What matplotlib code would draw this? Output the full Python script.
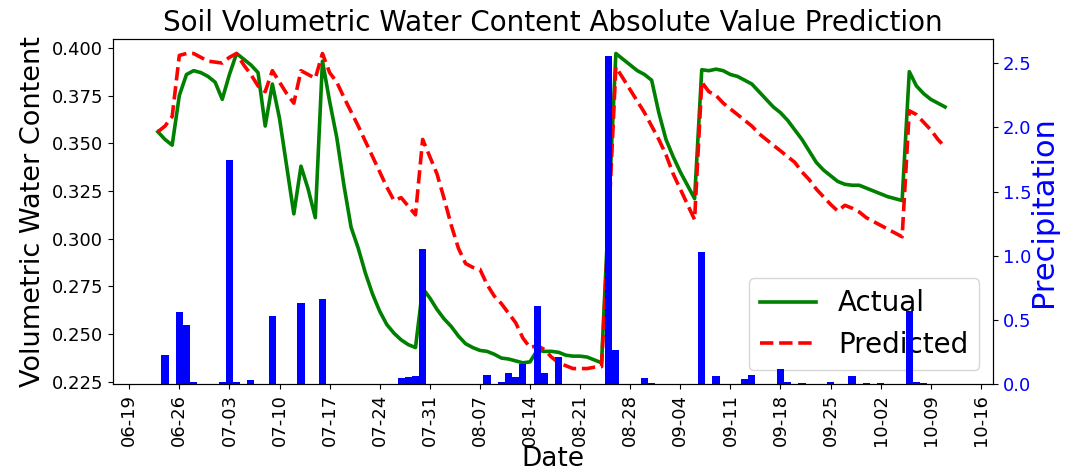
import matplotlib
matplotlib.use("Agg")
import matplotlib.pyplot as plt
import matplotlib.dates as mdates
import pandas as pd

plt.rcParams.update({'font.size': 13})

start = pd.Timestamp('2019-06-23')

# soil moisture, one value per day from 06-23 to 10-11
actual = [0.356, 0.352, 0.349, 0.375, 0.386, 0.388, 0.387, 0.385, 0.382, 0.373,
          0.386, 0.397, 0.394, 0.391, 0.387, 0.359, 0.381, 0.363, 0.338, 0.313,
          0.338, 0.326, 0.311, 0.393, 0.372, 0.353, 0.328, 0.306, 0.295, 0.282,
          0.271, 0.262, 0.255, 0.2505, 0.247, 0.2445, 0.243, 0.274, 0.269, 0.263,
          0.258, 0.254, 0.249, 0.245, 0.243, 0.2415, 0.241, 0.2395, 0.2375, 0.237,
          0.236, 0.235, 0.2355, 0.2415, 0.241, 0.241, 0.2405, 0.239, 0.2385, 0.2385,
          0.238, 0.2365, 0.235, 0.316, 0.397, 0.394, 0.391, 0.388, 0.386, 0.383,
          0.366, 0.352, 0.343, 0.335, 0.328, 0.321, 0.3885, 0.388, 0.3888, 0.388,
          0.386, 0.385, 0.383, 0.381, 0.377, 0.373, 0.369, 0.366, 0.362, 0.357,
          0.352, 0.346, 0.340, 0.336, 0.333, 0.330, 0.3285, 0.328, 0.328, 0.3265,
          0.325, 0.3235, 0.322, 0.321, 0.320, 0.3875, 0.380, 0.376, 0.373, 0.371,
          0.369]

predicted = [0.356, 0.359, 0.364, 0.396, 0.397, 0.397, 0.395, 0.393, 0.3925, 0.392,
             0.395, 0.397, 0.391, 0.386, 0.380, 0.377, 0.388, 0.382, 0.376, 0.371,
             0.388, 0.386, 0.384, 0.397, 0.387, 0.382, 0.374, 0.3665, 0.359, 0.351,
             0.343, 0.335, 0.327, 0.320, 0.3215, 0.317, 0.3125, 0.352, 0.343, 0.334,
             0.321, 0.307, 0.295, 0.287, 0.285, 0.284, 0.276, 0.270, 0.266, 0.261,
             0.256, 0.248, 0.243, 0.244, 0.242, 0.238, 0.235, 0.2335, 0.232, 0.232,
             0.232, 0.2327, 0.233, 0.310, 0.390, 0.384, 0.378, 0.372, 0.366, 0.359,
             0.352, 0.344, 0.334, 0.326, 0.318, 0.310, 0.382, 0.377, 0.375, 0.371,
             0.368, 0.365, 0.362, 0.359, 0.355, 0.352, 0.349, 0.346, 0.343, 0.340,
             0.335, 0.331, 0.326, 0.322, 0.318, 0.3145, 0.3175, 0.316, 0.314, 0.311,
             0.309, 0.307, 0.305, 0.303, 0.301, 0.367, 0.365, 0.361, 0.357, 0.352,
             0.348]

# precipitation: day offset from 06-23 and amount
rain_day = [1, 3, 4, 5, 9, 10, 11, 13, 16, 20, 23, 34, 35, 36, 37, 46, 48, 49, 50,
            51, 53, 54, 56, 63, 64, 68, 69, 76, 78, 82, 83, 87, 88, 90, 94, 97, 99,
            101, 105, 106, 107]
rain = [0.23, 0.56, 0.465, 0.02, 0.02, 1.75, 0.02, 0.03, 0.53, 0.63, 0.66, 0.05,
        0.06, 0.065, 1.05, 0.07, 0.02, 0.09, 0.06, 0.155, 0.61, 0.09, 0.21, 2.56,
        0.27, 0.045, 0.01, 1.03, 0.065, 0.04, 0.07, 0.115, 0.02, 0.01, 0.015, 0.065,
        0.01, 0.01, 0.57, 0.015, 0.01]

dates = pd.date_range(start, periods=len(actual), freq='D')
rain_dates = [start + pd.Timedelta(days=d) for d in rain_day]

fig, ax = plt.subplots(figsize=(10.74, 4.72), dpi=100)
fig.subplots_adjust(left=0.105, right=0.9246, bottom=0.186, top=0.917)

ax.plot(dates, actual, color='green', linewidth=2.6, label='Actual')
ax.plot(dates, predicted, color='red', linestyle='--', linewidth=2.6, label='Predicted')
ax.set_ylim(0.2238, 0.4045)
ax.set_ylabel('Volumetric Water Content', fontsize=19.5)
ax.set_xlabel('Date', fontsize=19, labelpad=0)
ax.set_title('Soil Volumetric Water Content Absolute Value Prediction', fontsize=20)
ax.legend(loc='lower right', fontsize=20)

ax2 = ax.twinx()
ax2.bar(rain_dates, rain, width=1, color='blue')
ax2.set_ylabel('Precipitation', color='blue', fontsize=22, labelpad=-2)
ax2.tick_params(axis='y', labelcolor='blue')

ticks = pd.date_range('2019-06-19', '2019-10-16', freq='7D')
ax.set_xticks(ticks)
ax.xaxis.set_major_formatter(mdates.DateFormatter('%m-%d'))
for lbl in ax.get_xticklabels():
    lbl.set_rotation(90)
ax.set_xlim(start - pd.Timedelta(days=6.3), start + pd.Timedelta(days=116.7))

plt.savefig("out.png", dpi=100)
